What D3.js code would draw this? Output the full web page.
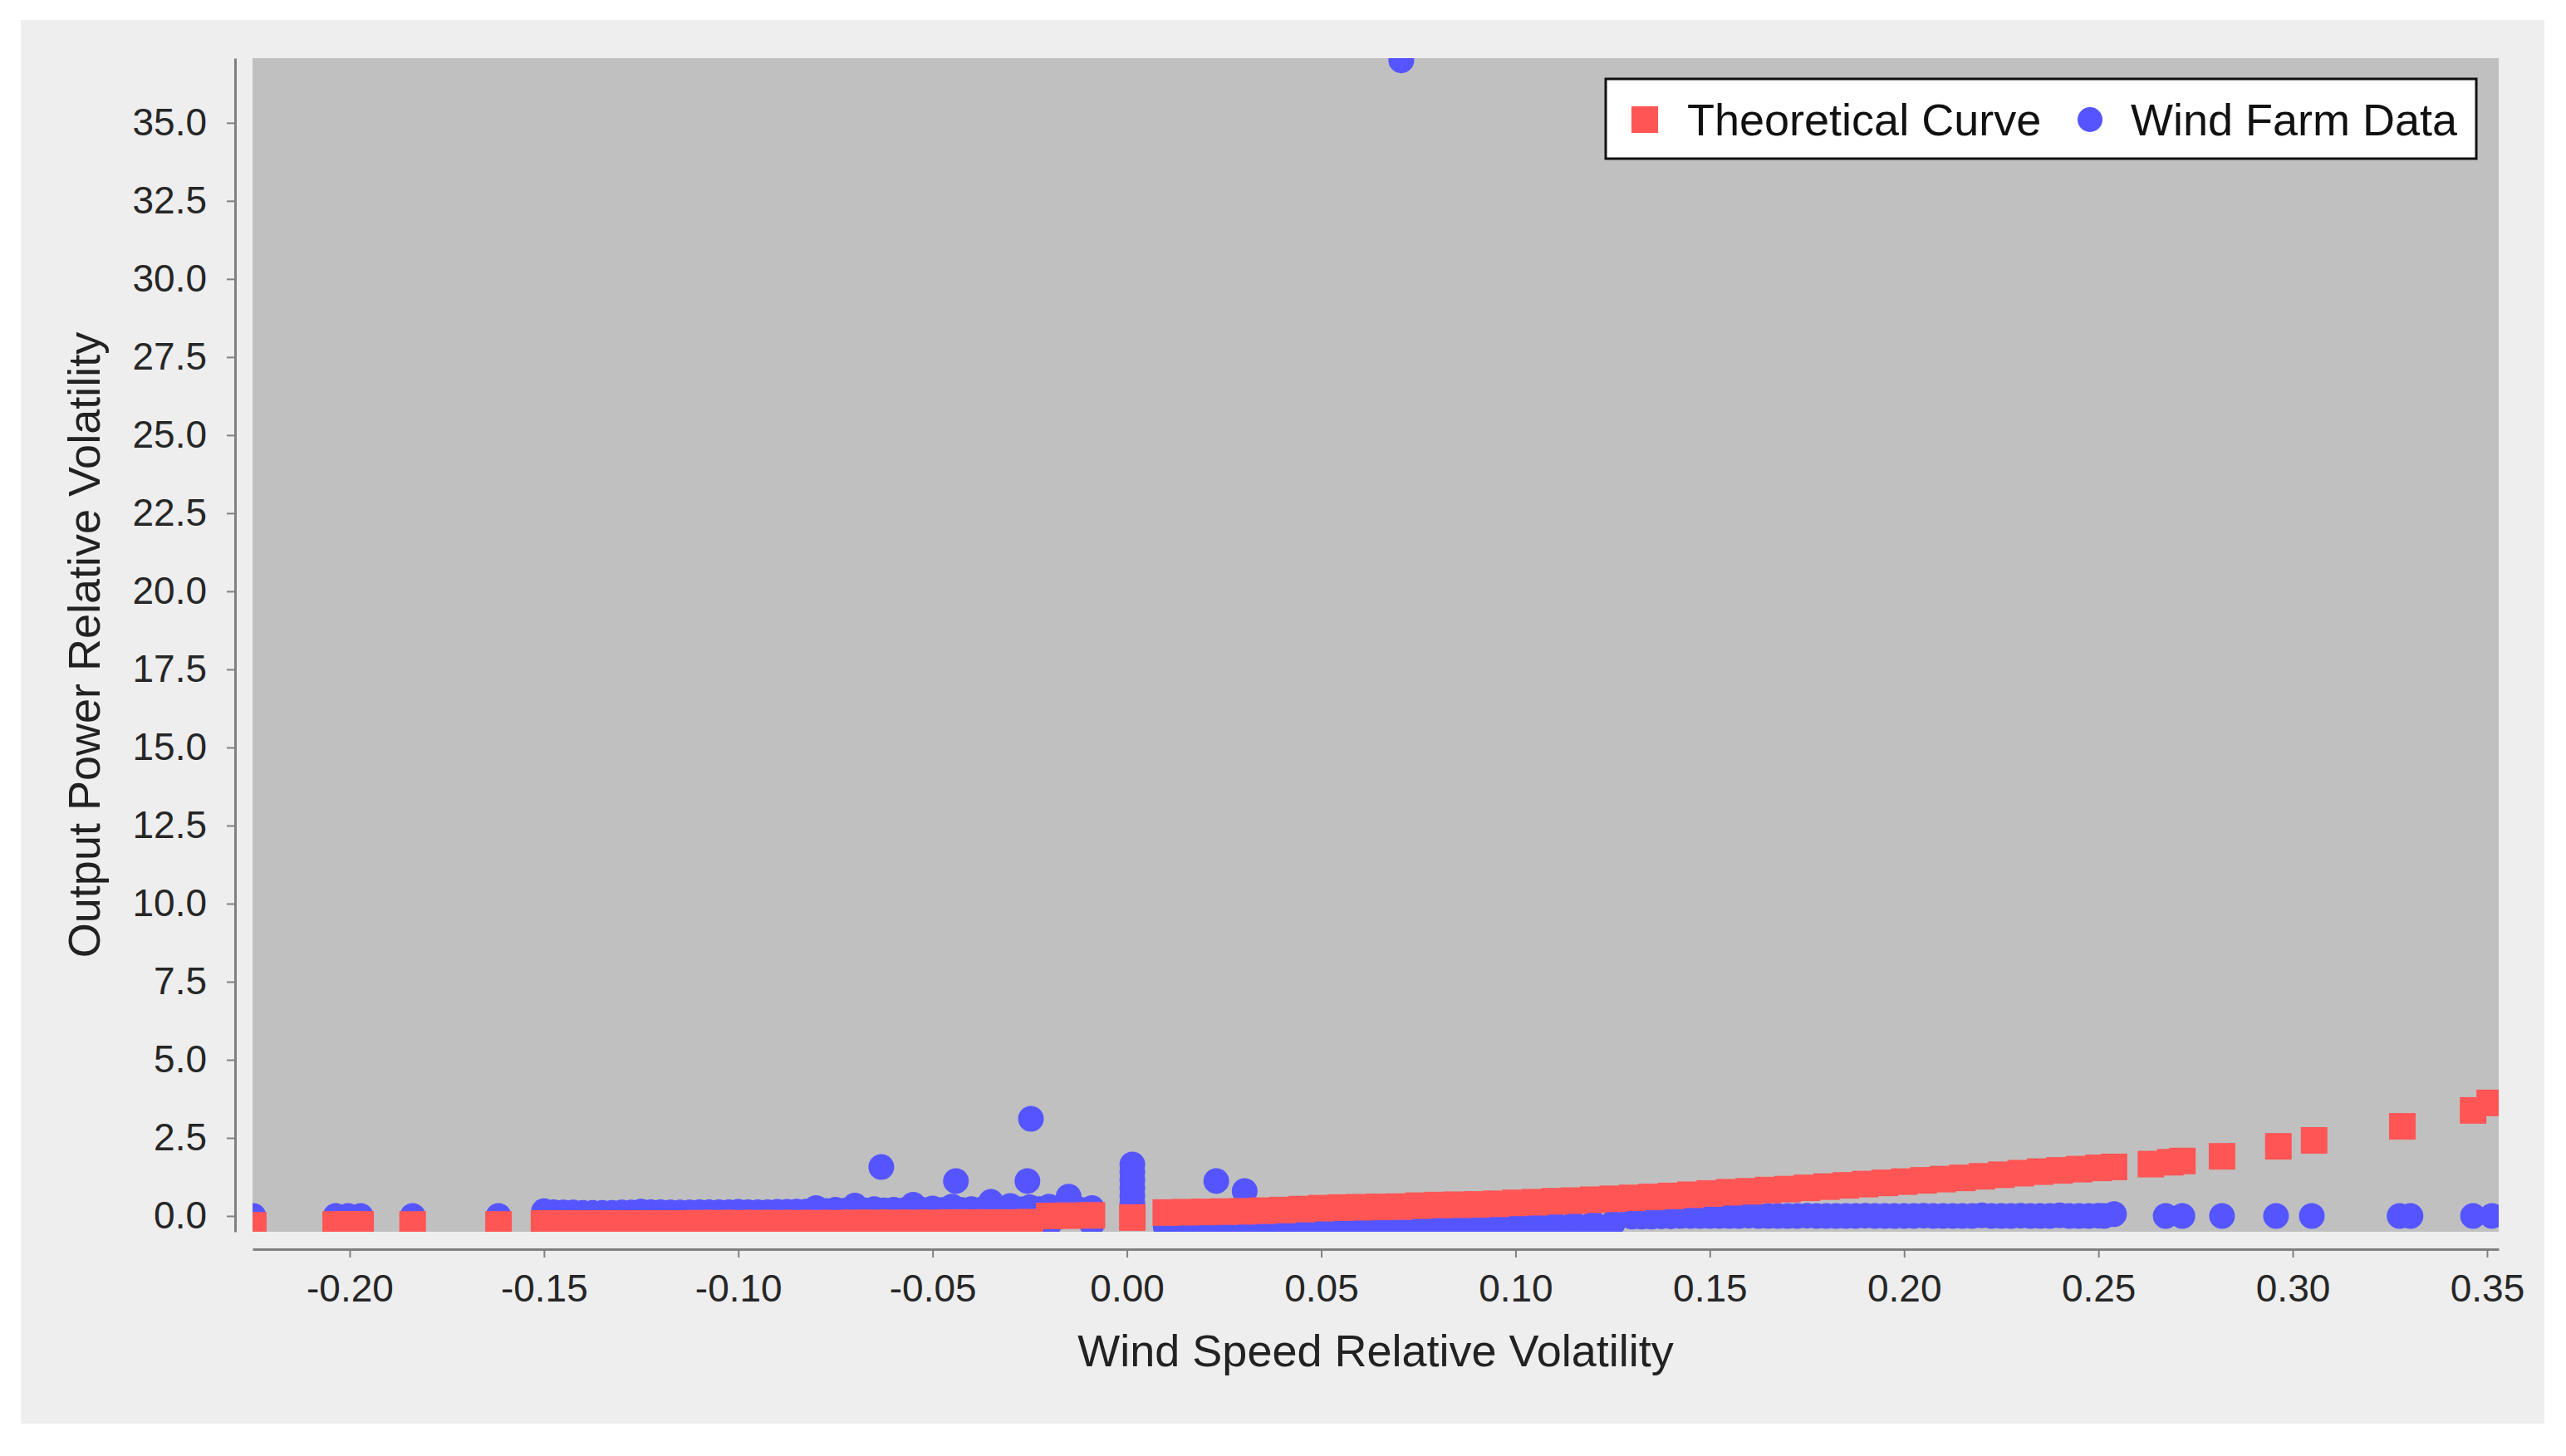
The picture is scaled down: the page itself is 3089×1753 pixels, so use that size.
<!DOCTYPE html>
<meta charset="utf-8">

<style>
	body { margin: 0; background: #ffffff; }
	text { font-family: "Liberation Sans", Arial, sans-serif; }
	.axis .domain { stroke: #808080; stroke-width: 3; }
	.axis .tick line { stroke: #808080; stroke-width: 2; }
	.axis .tick text { fill: #262626; font-size: 46px; }
</style>

<svg width="3089" height="1753"></svg>

<script src="https://cdn.jsdelivr.net/npm/d3@7/dist/d3.min.js"></script>

<script>

		// data: [wind speed rel. volatility, output power rel. volatility]
		var theoreticalCurve = [
			[-0.2248,-0.30],[-0.2036,-0.27],[-0.2004,-0.27],[-0.1972,-0.27],[-0.1838,-0.27],[-0.1617,-0.27],
			[-0.150,-0.24],[-0.145,-0.24],[-0.140,-0.24],[-0.135,-0.24],[-0.130,-0.24],[-0.125,-0.24],[-0.120,-0.24],
			[-0.115,-0.24],[-0.110,-0.23],[-0.105,-0.23],[-0.100,-0.23],[-0.095,-0.23],[-0.090,-0.23],[-0.085,-0.23],
			[-0.080,-0.23],[-0.075,-0.23],[-0.070,-0.22],[-0.065,-0.22],[-0.060,-0.22],[-0.055,-0.22],[-0.050,-0.22],
			[-0.045,-0.21],[-0.040,-0.21],[-0.035,-0.21],[-0.030,-0.21],[-0.025,-0.20],[-0.020,0.00],[-0.015,0.01],
			[-0.009,0.02],
			[0.0014,-0.05],
			[0.010,0.11],[0.015,0.12],[0.020,0.13],[0.025,0.14],[0.030,0.15],[0.035,0.17],[0.040,0.19],[0.045,0.22],
			[0.050,0.25],[0.055,0.27],[0.060,0.28],[0.065,0.29],[0.070,0.30],[0.075,0.33],[0.080,0.35],[0.085,0.36],
			[0.090,0.37],[0.095,0.39],[0.100,0.42],[0.105,0.44],[0.110,0.47],[0.115,0.49],[0.120,0.52],[0.125,0.55],
			[0.130,0.58],[0.135,0.61],[0.140,0.64],[0.145,0.68],[0.150,0.72],[0.155,0.76],[0.160,0.79],[0.165,0.83],
			[0.170,0.86],[0.175,0.90],[0.180,0.94],[0.185,0.98],[0.190,1.02],[0.195,1.06],[0.200,1.10],[0.205,1.14],
			[0.210,1.18],[0.215,1.22],[0.220,1.27],[0.225,1.32],[0.230,1.37],[0.235,1.42],[0.240,1.46],[0.245,1.50],
			[0.250,1.54],[0.254,1.57],
			[0.2635,1.66],[0.2685,1.72],[0.2716,1.76],[0.2818,1.91],[0.2963,2.23],[0.3055,2.42],[0.3282,2.87],
			[0.3464,3.38],[0.3507,3.62]
		];

		var windFarmData = [
			[-0.2248,0.00],[-0.2036,0.00],[-0.2004,0.00],[-0.1972,0.00],[-0.1838,0.00],[-0.1617,0.00],
			[-0.150,0.15],[-0.1475,0.12],[-0.145,0.11],[-0.1425,0.11],[-0.140,0.10],[-0.1375,0.10],[-0.135,0.10],
			[-0.1325,0.10],[-0.130,0.11],[-0.1275,0.11],[-0.125,0.14],[-0.1225,0.12],[-0.120,0.12],[-0.1175,0.11],
			[-0.115,0.11],[-0.1125,0.11],[-0.110,0.12],[-0.1075,0.12],[-0.105,0.12],[-0.1025,0.12],[-0.100,0.13],
			[-0.0975,0.12],[-0.095,0.12],[-0.0925,0.12],[-0.090,0.13],[-0.0875,0.13],[-0.085,0.14],[-0.0825,0.14],
			[-0.080,0.25],[-0.0775,0.16],[-0.075,0.20],[-0.0725,0.17],[-0.070,0.33],[-0.0675,0.18],[-0.065,0.22],
			[-0.0625,0.18],[-0.060,0.20],[-0.0575,0.18],[-0.055,0.36],[-0.0525,0.19],[-0.050,0.24],[-0.0475,0.19],
			[-0.045,0.30],[-0.0425,0.19],[-0.040,0.22],[-0.0375,0.20],[-0.035,0.45],[-0.0325,0.21],[-0.030,0.32],
			[-0.0275,0.21],[-0.025,0.28],[-0.0225,0.22],[-0.020,0.30],[-0.0175,0.22],[-0.015,0.62],[-0.0125,0.22],
			[-0.009,0.25],[-0.020,-0.25],[-0.009,-0.25],
			[-0.0632,1.57],[-0.0440,1.12],[-0.0256,1.12],[-0.0247,3.11],[0.0230,1.12],[0.0303,0.80],[0.0706,37.0],
			[0.0014,1.65],[0.0014,1.40],[0.0014,1.15],[0.0014,0.90],[0.0014,0.65],[0.0014,0.40],
			[0.010,-0.35],[0.015,-0.35],[0.020,-0.35],[0.025,-0.35],[0.030,-0.35],[0.035,-0.35],[0.040,-0.35],
			[0.045,-0.35],[0.050,-0.35],[0.055,-0.30],[0.060,-0.30],[0.065,-0.30],[0.070,-0.30],[0.075,-0.30],
			[0.080,-0.30],[0.085,-0.26],[0.090,-0.26],[0.095,-0.26],[0.100,-0.25],[0.105,-0.25],[0.110,-0.25],
			[0.115,-0.25],[0.120,-0.24],[0.125,-0.24],
			[0.130,-0.02],[0.1325,-0.02],[0.135,-0.02],[0.1375,-0.01],[0.140,-0.01],[0.1425,0.00],[0.145,0.00],
			[0.1475,0.00],[0.150,0.00],[0.1525,0.00],[0.155,0.00],[0.1575,0.00],[0.160,0.01],[0.1625,0.00],
			[0.165,0.00],[0.1675,0.00],[0.170,0.00],[0.1725,0.00],[0.175,0.01],[0.1775,0.00],[0.180,0.00],
			[0.1825,0.00],[0.185,0.00],[0.1875,0.00],[0.190,0.01],[0.1925,0.00],[0.195,0.00],[0.1975,0.00],
			[0.200,0.00],[0.2025,0.00],[0.205,0.01],[0.2075,0.00],[0.210,0.00],[0.2125,0.00],[0.215,0.00],
			[0.2175,0.00],[0.220,0.02],[0.2225,0.00],[0.225,0.00],[0.2275,0.00],[0.230,0.01],[0.2325,0.00],
			[0.235,0.00],[0.2375,0.00],[0.240,0.02],[0.2425,0.00],[0.245,0.00],[0.2475,0.00],[0.250,0.01],
			[0.2515,0.00],[0.254,0.06],
			[0.2673,0.00],[0.2716,0.00],[0.2818,0.00],[0.2957,0.00],[0.3049,0.00],[0.3275,0.00],[0.3303,0.00],
			[0.3464,0.00],[0.3513,0.00]
		];

		var xTicks = [-0.20, -0.15, -0.10, -0.05, 0.00, 0.05, 0.10, 0.15, 0.20, 0.25, 0.30, 0.35];
		var yTicks = [0, 2.5, 5, 7.5, 10, 12.5, 15, 17.5, 20, 22.5, 25, 27.5, 30, 32.5, 35];
		var seriesNames = ["Theoretical Curve", "Wind Farm Data"];
		var seriesColors = ["#ff5555", "#5555ff"];
		var xTitle = "Wind Speed Relative Volatility";
		var yTitle = "Output Power Relative Volatility";

		// layout
		var svg = d3.select("svg");
		var plot = {left: 304, top: 70, right: 3008, bottom: 1483};
		var axisGap = 21;

		var x = d3.scaleLinear().domain([-0.2250, 0.3530]).range([plot.left, plot.right]);
		var y = d3.scaleLinear().domain([-0.505, 37.07]).range([plot.bottom, plot.top]);

		// chart background
		svg.append("rect")
			.attr("x", 25).attr("y", 24)
			.attr("width", 3038).attr("height", 1690)
			.attr("fill", "#eeeeee");

		// plot area
		svg.append("clipPath").attr("id", "plotClip")
			.append("rect")
				.attr("x", plot.left).attr("y", plot.top)
				.attr("width", plot.right - plot.left).attr("height", plot.bottom - plot.top);

		svg.append("rect")
			.attr("x", plot.left).attr("y", plot.top)
			.attr("width", plot.right - plot.left).attr("height", plot.bottom - plot.top)
			.attr("fill", "#c0c0c0");

		var marks = svg.append("g").attr("clip-path", "url(#plotClip)");

		// wind farm data first, theoretical curve drawn on top
		marks.append("g")
			.selectAll("circle")
			.data(windFarmData)
			.enter().append("circle")
				.attr("cx", function(d) { return x(d[0]); })
				.attr("cy", function(d) { return y(d[1]); })
				.attr("r", 15.5)
				.attr("fill", seriesColors[1]);

		var sq = 32;
		marks.append("g")
			.selectAll("rect")
			.data(theoreticalCurve)
			.enter().append("rect")
				.attr("x", function(d) { return x(d[0]) - sq / 2; })
				.attr("y", function(d) { return y(d[1]) - sq / 2; })
				.attr("width", sq)
				.attr("height", sq)
				.attr("fill", seriesColors[0]);

		// axes
		svg.append("g")
			.attr("class", "axis")
			.attr("transform", "translate(" + (plot.left - axisGap) + ",0)")
			.call(d3.axisLeft(y).tickValues(yTicks).tickSize(10).tickSizeOuter(0).tickPadding(24)
				.tickFormat(function(d) { return d.toFixed(1); }));

		svg.append("g")
			.attr("class", "axis")
			.attr("transform", "translate(0," + (plot.bottom + axisGap) + ")")
			.call(d3.axisBottom(x).tickValues(xTicks).tickSize(10).tickSizeOuter(0).tickPadding(20)
				.tickFormat(function(d) { return d.toFixed(2); }));

		// axis titles
		svg.append("text")
			.attr("x", (plot.left + plot.right) / 2)
			.attr("y", 1645)
			.attr("text-anchor", "middle")
			.attr("font-size", 54)
			.attr("fill", "#222222")
			.text(xTitle);

		svg.append("text")
			.attr("transform", "translate(120," + ((plot.top + plot.bottom) / 2) + ") rotate(-90)")
			.attr("text-anchor", "middle")
			.attr("font-size", 54)
			.attr("fill", "#222222")
			.text(yTitle);

		// legend
		var legend = svg.append("g").attr("transform", "translate(1933,95)");

		legend.append("rect")
			.attr("width", 1048).attr("height", 96)
			.attr("fill", "#ffffff")
			.attr("stroke", "#111111")
			.attr("stroke-width", 3);

		legend.append("rect")
			.attr("x", 47 - sq / 2).attr("y", 49 - sq / 2)
			.attr("width", sq).attr("height", sq)
			.attr("fill", seriesColors[0]);

		legend.append("circle")
			.attr("cx", 583).attr("cy", 49).attr("r", 15)
			.attr("fill", seriesColors[1]);

		legend.selectAll("text.lbl")
			.data(seriesNames)
			.enter().append("text")
				.attr("class", "lbl")
				.attr("x", function(d, i) { return i === 0 ? 98 : 632; })
				.attr("y", 68)
				.attr("font-size", 54)
				.attr("fill", "#111111")
				.text(function(d) { return d; });

</script>
